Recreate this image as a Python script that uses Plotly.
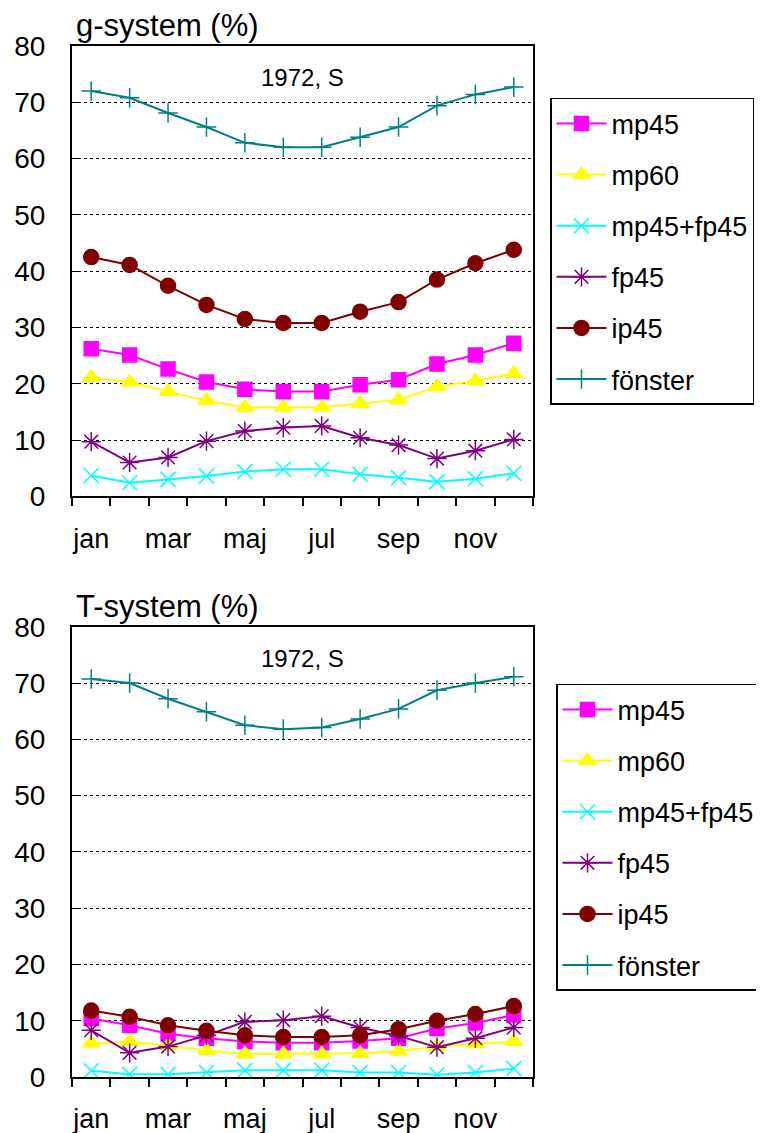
import numpy as np
import plotly.graph_objects as go
from plotly.subplots import make_subplots

months = ["jan", "feb", "mar", "apr", "maj", "jun", "jul", "aug", "sep", "okt", "nov", "dec"]
series_names = ["mp45", "mp60", "mp45+fp45", "fp45", "ip45", "fönster"]

# g-system (%)
g_mp45 = [26.2, 25.1, 22.6, 20.3, 19.0, 18.6, 18.6, 19.8, 20.7, 23.5, 25.1, 27.2]
g_mp60 = [21.1, 20.3, 18.6, 17.0, 15.8, 15.8, 15.8, 16.5, 17.1, 19.5, 20.5, 21.8]
g_mp45fp45 = [3.7, 2.4, 3.0, 3.6, 4.4, 4.8, 4.8, 3.9, 3.3, 2.6, 3.1, 4.1]
g_fp45 = [9.7, 6.0, 6.9, 9.8, 11.6, 12.2, 12.5, 10.4, 9.1, 6.7, 8.1, 10.1]
g_ip45 = [42.5, 41.1, 37.4, 34.0, 31.5, 30.8, 30.8, 32.8, 34.5, 38.5, 41.4, 43.8]
g_fonster = [72.0, 70.8, 68.1, 65.6, 62.8, 62.0, 62.0, 63.8, 65.6, 69.4, 71.4, 72.7]

# T-system (%)
t_mp45 = [10.4, 9.2, 7.7, 6.9, 6.3, 6.1, 6.1, 6.4, 6.9, 8.6, 9.6, 11.0]
t_mp60 = [6.0, 6.3, 5.5, 4.7, 4.1, 4.1, 4.1, 4.2, 4.6, 5.4, 5.9, 6.3]
t_mp45fp45 = [1.1, 0.5, 0.5, 0.8, 1.2, 1.2, 1.2, 0.8, 0.8, 0.4, 0.8, 1.5]
t_fp45 = [8.3, 4.3, 5.4, 7.4, 9.8, 10.1, 10.8, 8.8, 7.3, 5.3, 6.9, 8.8]
t_ip45 = [11.8, 10.7, 9.2, 8.2, 7.4, 7.1, 7.1, 7.4, 8.5, 10.0, 11.2, 12.6]
t_fonster = [70.7, 70.0, 67.2, 64.9, 62.5, 61.8, 62.1, 63.6, 65.4, 68.7, 70.0, 71.1]

g_data = [g_mp45, g_mp60, g_mp45fp45, g_fp45, g_ip45, g_fonster]
t_data = [t_mp45, t_mp60, t_mp45fp45, t_fp45, t_ip45, t_fonster]

colors = ["#FF00FF", "#FFFF00", "#00FFFF", "#800080", "#800000", "#008080"]
symbols = ["square", "triangle-up", "x-thin-open", "asterisk-open", "circle", "cross-thin-open"]
sizes = [14, 15, 15, 16, 15, 14]

x = np.arange(1, 13)

fig = make_subplots(rows=2, cols=1, vertical_spacing=0.1265)

for row, data, leg in [(1, g_data, "legend"), (2, t_data, "legend2")]:
    for i, name in enumerate(series_names):
        fig.add_trace(go.Scatter(
            x=x, y=data[i], name=name, mode="lines+markers",
            line=dict(color=colors[i], width=2),
            marker=dict(symbol=symbols[i], size=sizes[i], color=colors[i],
                        line=dict(color=colors[i], width=1.5)),
            legend=leg, legendgroup=leg + name,
        ), row=row, col=1)

font = "Liberation Sans, Arial, sans-serif"

for r in [1, 2]:
    fig.update_xaxes(
        range=[0.5, 12.5], tickvals=list(x[::2]), ticktext=months[::2],
        ticks="", ticklabelstandoff=17, automargin=False,
        minor=dict(tick0=0.5, dtick=1, ticks="outside", ticklen=8, tickcolor="black", tickwidth=1.5),
        showgrid=False, showline=True, linecolor="black", linewidth=2, mirror=True,
        tickfont=dict(size=27, color="black"), row=r, col=1)
    fig.update_yaxes(
        range=[0, 80], dtick=10, ticks="inside", ticklen=6, tickcolor="black",
        showgrid=True, gridcolor="black", griddash="dot", gridwidth=1,
        showline=True, linecolor="black", linewidth=2, mirror=True, zeroline=False,
        ticklabelstandoff=19, automargin=False,
        tickfont=dict(size=28, color="black"), row=r, col=1)

fig.add_annotation(text="g-system (%)", xref="paper", yref="paper", x=0.005, y=1.0,
                   xanchor="left", yanchor="bottom", yshift=1, showarrow=False, font=dict(size=31))
fig.add_annotation(text="T-system (%)", xref="paper", yref="paper", x=0.005, y=0.4365,
                   xanchor="left", yanchor="bottom", yshift=1, showarrow=False, font=dict(size=31))
fig.add_annotation(text="1972, S", xref="x domain", yref="y domain", x=0.5, y=0.93,
                   yanchor="middle", showarrow=False, font=dict(size=24))
fig.add_annotation(text="1972, S", xref="x2 domain", yref="y2 domain", x=0.5, y=0.93,
                   yanchor="middle", showarrow=False, font=dict(size=24))

legend_style = dict(bgcolor="white", bordercolor="black", borderwidth=1.5,
                    font=dict(size=27, color="black"), tracegroupgap=13,
                    xref="container", yref="container",
                    xanchor="left", yanchor="top", itemwidth=50)

# the page adds an 8px body margin, so margins are shifted by 8px
fig.update_layout(
    width=790, height=1133,
    margin=dict(l=64, r=265, t=38, b=64),
    paper_bgcolor="white", plot_bgcolor="white",
    font=dict(family=font, color="black"),
    showlegend=True,
    legend=dict(x=542 / 790, y=0.9206, **legend_style),
    legend2=dict(x=548 / 790, y=0.4034, **legend_style),
)

fig.write_html("out.html")
